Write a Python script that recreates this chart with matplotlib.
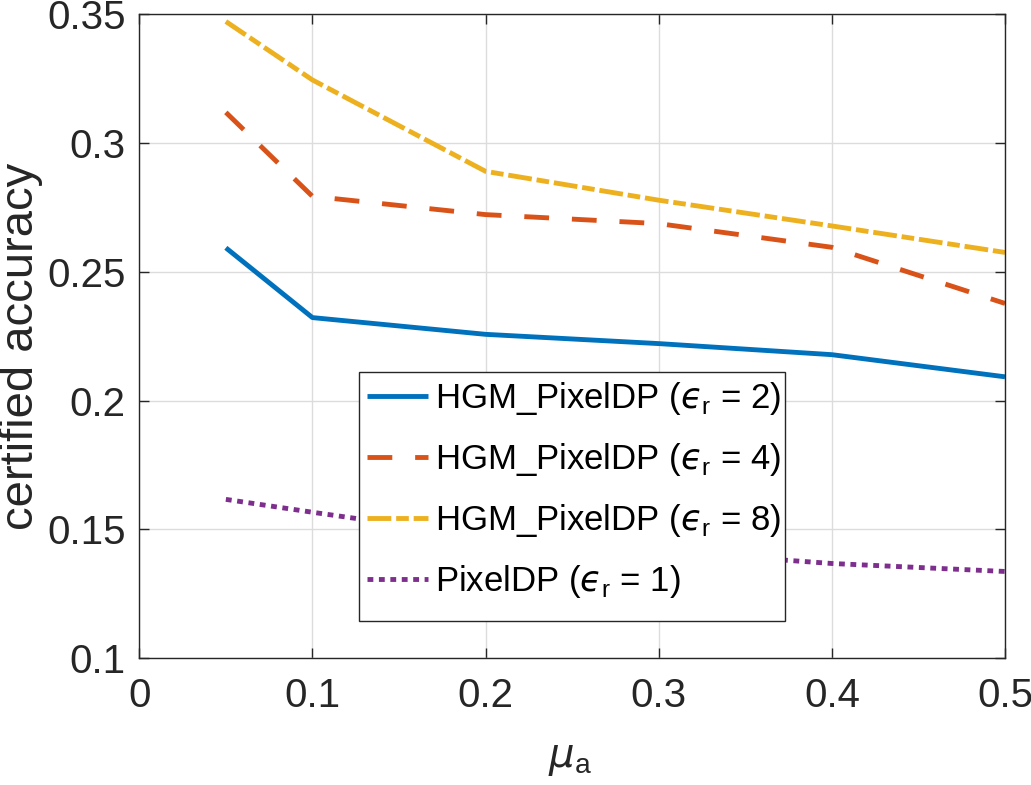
import matplotlib
matplotlib.use("Agg")
import matplotlib.pyplot as plt
from matplotlib.patches import Rectangle

plt.rcParams['font.family'] = ['Liberation Sans', 'DejaVu Sans']
plt.rcParams['mathtext.fontset'] = 'dejavusans'

mu_a = [0.05, 0.1, 0.2, 0.3, 0.4, 0.5]
hgm_eps2 = [0.2593, 0.2322, 0.2257, 0.2221, 0.2178, 0.2092]
hgm_eps4 = [0.3119, 0.2793, 0.2722, 0.2687, 0.2595, 0.2377]
hgm_eps8 = [0.3472, 0.3245, 0.2890, 0.2778, 0.2678, 0.2575]
pixeldp_eps1 = [0.1616, 0.1566, 0.1470, 0.1415, 0.1367, 0.1336]

labels = ['HGM_PixelDP ($\u03f5_{\\mathregular{r}}$ = 2)',
          'HGM_PixelDP ($\u03f5_{\\mathregular{r}}$ = 4)',
          'HGM_PixelDP ($\u03f5_{\\mathregular{r}}$ = 8)',
          'PixelDP ($\u03f5_{\\mathregular{r}}$ = 1)']
colors = ['#0072BD', '#D95319', '#EDB120', '#7E2F8E']

xticks = [0, 0.1, 0.2, 0.3, 0.4, 0.5]
yticks = [0.1, 0.15, 0.2, 0.25, 0.3, 0.35]
xticklabels = ['0', '0.1', '0.2', '0.3', '0.4', '0.5']
yticklabels = ['0.1', '0.15', '0.2', '0.25', '0.3', '0.35']

fig = plt.figure(figsize=(10.31, 7.85), dpi=100)
ax = fig.add_axes([0.1351, 0.1618, 0.8397, 0.8200])

lw = 3.5
ax.plot(mu_a, hgm_eps2, color=colors[0], lw=lw, solid_capstyle='butt', label=labels[0])
ax.plot(mu_a, hgm_eps4, color=colors[1], lw=lw, dashes=(5.1, 4.7), dash_capstyle='butt', label=labels[1])
ax.plot(mu_a, hgm_eps8, color=colors[2], lw=lw, dashes=(4.9, 1.0, 2.6, 1.0), dash_capstyle='butt', label=labels[2])
ax.plot(mu_a, pixeldp_eps1, color=colors[3], lw=lw, dashes=(1.2, 1.15), dash_capstyle='butt', label=labels[3])

ax.set_xlim(0, 0.5)
ax.set_ylim(0.1, 0.35)
ax.set_xticks(xticks)
ax.set_xticklabels(xticklabels)
ax.set_yticks(yticks)
ax.set_yticklabels(yticklabels)
ax.grid(True, color='#DCDCDC', lw=1.0)
ax.set_axisbelow(True)
ax.tick_params(direction='in', length=7, width=1.0, top=True, right=True,
               labelsize=29, colors='#262626')
ax.tick_params(axis='y', pad=10)
ax.tick_params(axis='x', pad=14)
for s in ax.spines.values():
    s.set_color('#262626')
    s.set_linewidth(1.0)

ax.set_ylabel('certified accuracy', fontsize=34, color='#262626')
ax.yaxis.set_label_coords(-0.111, 0.484)
ax.set_xlabel(r'$\mu_{\mathregular{a}}$', fontsize=29, color='#262626')
ax.xaxis.set_label_coords(0.497, -0.127)

# legend box drawn separately so padding can match
box = Rectangle((0.254, 0.058), 0.492, 0.387, transform=ax.transAxes,
                facecolor='white', edgecolor='#262626', lw=1.0, zorder=4)
ax.add_patch(box)

leg = ax.legend(loc='upper left', bbox_to_anchor=(0.263, 0.432),
                fontsize=25, frameon=False,
                handlelength=1.76, handletextpad=0.2, borderpad=0.0, labelspacing=0.69,
                borderaxespad=0)
leg.set_zorder(5)

fig.savefig('out.png', dpi=100)
